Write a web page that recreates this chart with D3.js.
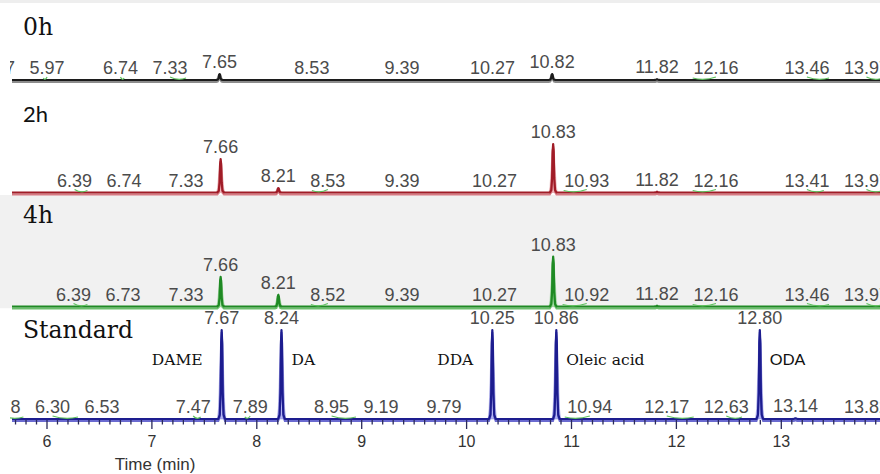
<!DOCTYPE html>
<html>
<head>
<meta charset="utf-8">
<script src="https://cdn.jsdelivr.net/npm/d3@7/dist/d3.min.js"></script>
<style>
  html, body { margin: 0; padding: 0; background: #fff; }
  svg { display: block; }
</style>
</head>
<body>
<svg id="chart" width="880" height="474"></svg>
<script>
// ---- Chromatogram data: retention times (min) and peak heights (relative units) ----
const runNames = ["0h", "2h", "4h", "Standard"];

const rt0h = [5.57, 5.97, 6.74, 7.33, 7.65, 8.53, 9.39, 10.27, 10.82, 11.82, 12.16, 13.46, 13.97];
const h0h  = [0, 0, 0, 0, 6.7, 0, 0, 0, 6.7, 0.8, 0, 0, 0];

const rt2h = [6.39, 6.74, 7.33, 7.66, 8.21, 8.53, 9.39, 10.27, 10.83, 10.93, 11.82, 12.16, 13.41, 13.97];
const h2h  = [0, 0, 0, 37.6, 5, 0, 0, 0, 54.5, 0, 0.8, 0, 0, 0];

const rt4h = [6.39, 6.73, 7.33, 7.66, 8.21, 8.52, 9.39, 10.27, 10.83, 10.92, 11.82, 12.16, 13.46, 13.97];
const h4h  = [0, 0, 0, 33.4, 13.1, 0, 0, 0, 56, 0, 0.8, 0, 0, 0];

const rtStd = [5.78, 6.30, 6.53, 7.47, 7.67, 7.89, 8.24, 8.95, 9.19, 9.79, 10.25, 10.86, 10.94, 12.17, 12.63, 12.80, 13.14, 13.82];
const hStd  = [0, 0, 0, 0, 100, 0, 100, 0, 0, 0, 100, 100, 0, 0, 0, 100, 0.8, 0];

const compoundNames = ["DAME", "DA", "DDA", "Oleic acid", "ODA"];
const compoundRt    = [7.67, 8.24, 10.25, 10.86, 12.80];

const axisTicks = [6, 7, 8, 9, 10, 11, 12, 13];
const axisTitle = "Time (min)";

// ---- Layout ----
const W = 880, H = 474;
const SERIF = "'DejaVu Serif', 'Liberation Serif', serif";
const SANS = "'Liberation Sans', Arial, sans-serif";
const x = d3.scaleLinear().domain([6, 13]).range([46.5, 780.8]);
const plotLeft = 12, plotRight = 880;
const tStart = x.invert(plotLeft), tEnd = x.invert(plotRight);
const fullScalePx = 89;

const panels = [
  { name: runNames[0], rt: rt0h, h: h0h, base: 80, bgTop: 0, bgBot: 83, bg: "#ffffff",
    line: "#1c1c1c", under: "#8c8c8c", fill: "#c4c4c4",
    titleY: 35, titleFont: SERIF, titleSize: 23.5 },
  { name: runNames[1], rt: rt2h, h: h2h, base: 192.5, bgTop: 83, bgBot: 195, bg: "#ffffff",
    line: "#a01c27", under: "#d77a83", fill: "#f0b4b9",
    titleY: 121.5, titleFont: "Lato, 'Open Sans', sans-serif", titleSize: 22 },
  { name: runNames[2], rt: rt4h, h: h4h, base: 306.5, bgTop: 195, bgBot: 308.5, bg: "#f1f1f1",
    line: "#1f8a24", under: "#6cbf6c", fill: "#a8dca8",
    titleY: 223, titleFont: SERIF, titleSize: 23.5 },
  { name: runNames[3], rt: rtStd, h: hStd, base: 419, bgTop: 308.5, bgBot: 474, bg: "#ffffff",
    line: "#1d1d8f", under: "#6a6ad0", fill: "#b6b6f2",
    titleY: 338, titleFont: SERIF, titleSize: 23.5 }
];

// shape of a single peak (offset in minutes, fraction of height)
const lineProfile = [[-0.032, 0], [-0.018, 0.05], [-0.01, 0.3], [-0.005, 0.85], [0, 1],
                     [0.005, 0.85], [0.01, 0.3], [0.018, 0.05], [0.032, 0]];
const fillProfile = [[-0.04, 0], [-0.03, 0.12], [-0.02, 0.5], [-0.01, 0.92], [0, 1],
                     [0.01, 0.92], [0.02, 0.5], [0.03, 0.12], [0.04, 0]];

const LABEL_GAP = 14.5, PEAK_GAP = 11, BAND = 13;
const LABEL_RIGHT_LIMIT = 889, LABEL_LEFT_LIMIT = -20;

const svg = d3.select("#chart");
const defs = svg.append("defs");
defs.append("clipPath").attr("id", "plotClip")
  .append("rect").attr("x", plotLeft).attr("y", 0).attr("width", plotRight - plotLeft).attr("height", H);
defs.append("clipPath").attr("id", "textClip")
  .append("rect").attr("x", 10).attr("y", 0).attr("width", W - 10).attr("height", H);

panels.forEach(p => {
  svg.append("rect").attr("x", 0).attr("y", p.bgTop).attr("width", W)
    .attr("height", p.bgBot - p.bgTop).attr("fill", p.bg);
});
svg.append("rect").attr("x", 0).attr("y", 0).attr("width", W).attr("height", 3).attr("fill", "#eeeeee");

panels.forEach(p => {
  const y = d3.scaleLinear().domain([0, 100]).range([p.base, p.base - fullScalePx]);
  const peaks = p.rt.map((t, i) => ({ t, h: p.h[i], text: t.toFixed(2) }));
  const g = svg.append("g");
  const plot = g.append("g").attr("clip-path", "url(#plotClip)");

  // filled area under the larger peaks
  const area = d3.area().x(d => x(d[0])).y0(y(0)).y1(d => y(d[1]));
  peaks.filter(d => d.h >= 3).forEach(d => {
    plot.append("path")
      .attr("d", area(fillProfile.map(([dt, f]) => [d.t + dt, d.h * f * 0.96])))
      .attr("fill", p.fill).attr("stroke", p.under).attr("stroke-width", 0.6).attr("stroke-opacity", 0.7);
  });

  // trace
  const pts = [[tStart, 0]];
  peaks.filter(d => d.h > 0).forEach(d => lineProfile.forEach(([dt, f]) => pts.push([d.t + dt, d.h * f])));
  pts.push([tEnd, 0]);
  pts.sort((a, b) => a[0] - b[0]);
  const line = d3.line().x(d => x(d[0])).y(d => y(d[1]));
  plot.append("path").attr("d", line(pts)).attr("transform", "translate(0,2)")
    .attr("fill", "none").attr("stroke", p.under).attr("stroke-width", 2);
  plot.append("path").attr("d", line(pts))
    .attr("fill", "none").attr("stroke", p.line).attr("stroke-width", 2.2)
    .attr("stroke-linejoin", "round");

  // peak labels
  const labelG = g.append("g").attr("clip-path", "url(#textClip)");
  const leaderG = g.append("g").attr("clip-path", "url(#textClip)");
  peaks.forEach(d => {
    d.nat = x(d.t);
    d.yb = y(d.h) - 6;
    d.el = labelG.append("text").text(d.text)
      .attr("y", d.yb).attr("text-anchor", "middle")
      .attr("font-family", SANS).attr("font-size", 18).attr("fill", "#4b4b4b");
    d.w = d.el.node().getComputedTextLength();
    d.fixed = d.h > 0;
    d.x = d.nat;
  });

  // keep the labels of integration-only peaks clear of each other and of the tall peaks
  const fixed = peaks.filter(d => d.fixed);
  const free = peaks.filter(d => !d.fixed).sort((a, b) => b.nat - a.nat);
  const placed = [];
  free.forEach(d => {
    const obstacles = [];
    fixed.forEach(f => {
      if (Math.abs(f.yb - d.yb) < BAND) obstacles.push({ l: f.x - f.w / 2, r: f.x + f.w / 2, gap: LABEL_GAP });
      if (y(f.h) < d.yb - 2) obstacles.push({ l: f.nat, r: f.nat, gap: PEAK_GAP });
    });
    let upper = LABEL_RIGHT_LIMIT - d.w / 2;
    placed.forEach(q => {
      if (Math.abs(q.yb - d.yb) < BAND) upper = Math.min(upper, q.x - q.w / 2 - LABEL_GAP - d.w / 2);
    });
    const hits = c => obstacles.some(o => c - d.w / 2 < o.r + o.gap && c + d.w / 2 > o.l - o.gap);
    let x0 = Math.min(d.nat, upper);
    if (hits(x0)) {
      const cands = [];
      obstacles.forEach(o => {
        cands.push(o.l - o.gap - d.w / 2);
        cands.push(o.r + o.gap + d.w / 2);
      });
      const ok = cands.filter(c => c <= upper + 0.01 && !hits(c))
        .sort((a, b) => Math.abs(a - x0) - Math.abs(b - x0));
      if (ok.length) x0 = ok[0];
    }
    d.x = x0;
    placed.push(d);
  });
  // left margin: push the leftmost labels back in from the edge
  let prev = null;
  free.slice().sort((a, b) => a.x - b.x).forEach(d => {
    let lower = LABEL_LEFT_LIMIT + d.w / 2;
    if (prev && Math.abs(prev.yb - d.yb) < BAND) lower = Math.max(lower, prev.x + prev.w / 2 + LABEL_GAP + d.w / 2);
    if (d.x < lower) d.x = lower;
    prev = d;
  });

  peaks.forEach(d => {
    d.el.attr("x", d.x);
    if (!d.fixed && Math.abs(d.x - d.nat) > 3) {
      const mid = (d.x + d.nat) / 2;
      leaderG.append("path")
        .attr("d", `M${d.nat},${p.base - 2} Q${mid},${p.base + 1} ${d.x},${d.yb + 3}`)
        .attr("fill", "none").attr("stroke", "#5cc05c").attr("stroke-width", 1.2);
    }
  });

  // run title
  g.append("text").text(p.name).attr("x", 23).attr("y", p.titleY)
    .attr("font-family", p.titleFont).attr("font-size", p.titleSize).attr("fill", "#111");
});

// compound names beside the standard peaks
(function () {
  const p = panels[3];
  const tallX = compoundRt.map(t => x(t));
  compoundNames.forEach((name, i) => {
    const px = tallX[i];
    const leftGap = i > 0 ? px - tallX[i - 1] : Infinity;
    const rightGap = i < tallX.length - 1 ? tallX[i + 1] - px : Infinity;
    const right = rightGap >= leftGap;
    svg.append("text").text(name)
      .attr("x", right ? px + 10 : px - 19)
      .attr("y", p.base - 54.5)
      .attr("text-anchor", right ? "start" : "end")
      .attr("font-family", name === "ODA" ? "Lato, 'Open Sans', sans-serif" : SERIF)
      .attr("font-size", name === "ODA" ? 16 : 15.5)
      .attr("fill", "#111");
  });
})();

// time axis under the standard run
(function () {
  const base = panels[3].base;
  const axG = svg.append("g").attr("clip-path", "url(#plotClip)");
  const minor = d3.range(57, 140).map(v => v / 10).filter(v => Math.abs(v - Math.round(v)) > 1e-6);
  const minorAxis = axG.append("g").attr("transform", `translate(0,${base + 1})`)
    .call(d3.axisBottom(x).tickValues(minor).tickSize(4.5).tickFormat(""));
  const majorAxis = axG.append("g").attr("transform", `translate(0,${base + 1})`)
    .call(d3.axisBottom(x).tickValues(axisTicks).tickSize(9).tickPadding(6.5).tickFormat(d3.format("d")));
  [minorAxis, majorAxis].forEach(a => {
    a.select(".domain").remove();
    a.selectAll(".tick line").attr("stroke", "#2a2a5a").attr("stroke-width", 1.3);
  });
  majorAxis.selectAll(".tick text")
    .attr("font-family", SANS).attr("font-size", 16).attr("fill", "#333");
  svg.append("text").text(axisTitle).attr("x", 155).attr("y", 470)
    .attr("text-anchor", "middle").attr("font-family", SANS).attr("font-size", 17).attr("fill", "#333");
})();
</script>
</body>
</html>
